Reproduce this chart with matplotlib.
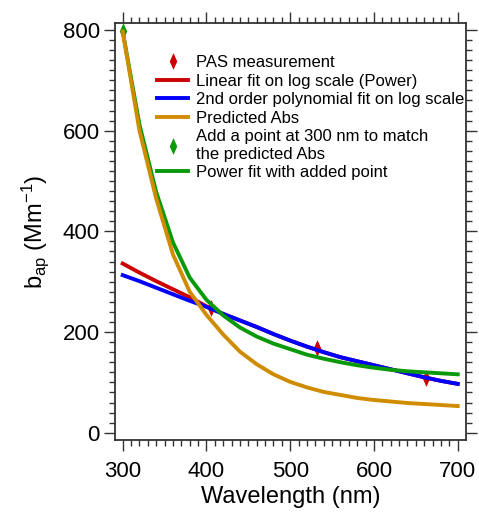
import matplotlib
matplotlib.use('Agg')
import matplotlib.pyplot as plt
import numpy as np
from matplotlib.ticker import MultipleLocator

plt.rcParams['font.family'] = ['Liberation Sans', 'DejaVu Sans']
plt.rcParams['mathtext.fontset'] = 'custom'
plt.rcParams['mathtext.rm'] = 'Liberation Sans'
plt.rcParams['mathtext.it'] = 'Liberation Sans:italic'

# measured points (PAS) and the added point
pas_wl = [405, 532, 662]
pas_bap = [248, 168, 108]
added_wl = [300]
added_bap = [797]

# curves sampled every 20 nm
wl = np.arange(300, 701, 20)
linear_fit = [336, 318, 301, 285, 269, 251, 236, 223, 210, 196, 183,
              171, 160, 150, 142, 134, 126, 118, 110, 103, 97]
poly_fit = [313, 301, 288, 275, 262, 250, 236, 223, 210, 196, 183,
            171, 160, 150, 142, 134, 126, 118, 110, 103, 97]
predicted_abs = [797, 600, 465, 354, 280, 234, 195, 161, 136, 116, 101,
                 90, 81, 75, 69, 65, 62, 59, 57, 55, 53]
power_added = [797, 612, 478, 378, 308, 264, 233, 209, 191, 177, 166,
               155, 147, 140, 134, 129, 125, 122, 120, 118, 116]

RED = '#CC0000'
BLUE = '#0000FF'
ORANGE = '#D08C00'
GREEN = '#0A990A'

# narrow diamond like the Igor marker
diamond = [(0, -1), (0.45, 0), (0, 1), (-0.45, 0), (0, -1)]

fig = plt.figure(figsize=(4.79, 5.12), dpi=100)
ax = fig.add_axes([0.2401, 0.1406, 0.7321, 0.8151])

ax.plot(pas_wl, pas_bap, linestyle='none', marker=diamond, ms=12, color=RED,
        markeredgewidth=0, zorder=1, label='PAS measurement')
ax.plot(wl, linear_fit, color=RED, lw=2.8, zorder=2,
        label='Linear fit on log scale (Power)')
ax.plot(wl, poly_fit, color=BLUE, lw=2.8, zorder=3,
        label='2nd order polynomial fit on log scale')
ax.plot(wl, predicted_abs, color=ORANGE, lw=2.8, zorder=6,
        label='Predicted Abs')
ax.plot(added_wl, added_bap, linestyle='none', marker=diamond, ms=12,
        color=GREEN, markeredgewidth=0, zorder=5,
        label='Add a point at 300 nm to match\nthe predicted Abs')
ax.plot(wl, power_added, color=GREEN, lw=2.8, zorder=4,
        label='Power fit with added point')

ax.set_xlim(290.8, 709.5)
ax.set_ylim(-14.5, 814.5)
ax.xaxis.set_major_locator(MultipleLocator(100))
ax.xaxis.set_minor_locator(MultipleLocator(10))
ax.yaxis.set_major_locator(MultipleLocator(200))
ax.yaxis.set_minor_locator(MultipleLocator(20))

ax.tick_params(which='both', direction='out', top=True, right=True,
               width=1.0, color='#333333')
ax.tick_params(which='major', length=8, labelsize=16, pad=3)
ax.tick_params(which='minor', length=4.5)
ax.tick_params(axis='x', which='major', pad=7)
for spine in ax.spines.values():
    spine.set_linewidth(1.3)
    spine.set_color('#333333')

ax.set_xlabel('Wavelength (nm)', fontsize=17, labelpad=3)
ax.set_ylabel(r'b$_\mathrm{ap}$ (Mm$^\mathrm{-1}$)', fontsize=17, labelpad=8)

ax.legend(loc='upper left', bbox_to_anchor=(0.12, 0.922), frameon=False,
          fontsize=12, handlelength=1.85, handletextpad=0.5,
          labelspacing=0.21, borderpad=0, borderaxespad=0, numpoints=1)

fig.savefig('out.png', dpi=100)
